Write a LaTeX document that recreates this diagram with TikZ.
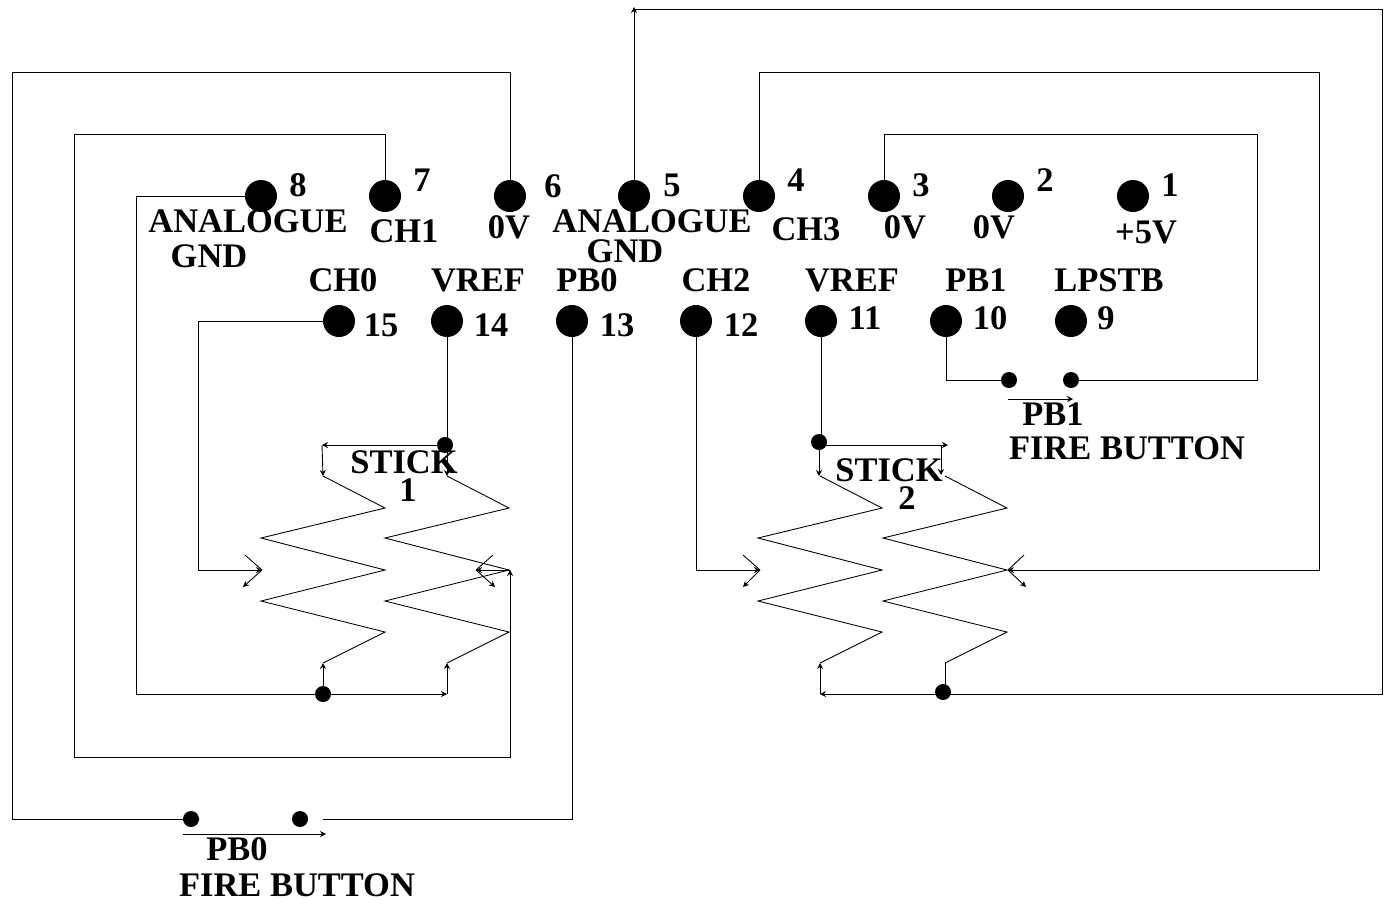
\documentclass[tikz,border=0pt]{standalone}
\usepackage{fontspec}
\setmainfont{Liberation Serif}
\usetikzlibrary{arrows.meta}

\begin{document}
\begin{tikzpicture}[x=0.01cm, y=-0.01cm, >={Stealth[length=0.06cm,width=0.06cm]},
  pin/.style = {circle, fill=black, inner sep=0pt, minimum size=0.32cm},
  contact/.style = {circle, fill=black, inner sep=0pt, minimum size=0.16cm},
  lbl/.style = {font=\fontsize{9.8}{10}\selectfont\bfseries, inner sep=0pt},
  wire/.style = {line width=0.25pt},
  zigzag/.style = {insert path={-- ++(62,32) -- ++(-124,30) -- ++(124,32) -- ++(-124,31) -- ++(124,31) -- ++(-62,31)}}]
\useasboundingbox (0,0) rectangle (1385,899);

% Pins
\node (pin8) [pin] at (261,196) {};
\node (pin7) [pin] at (385,196) {};
\node (pin6) [pin] at (510,196) {};
\node (pin5) [pin] at (634,196) {};
\node (pin4) [pin] at (759,196) {};
\node (pin3) [pin] at (884,196) {};
\node (pin2) [pin] at (1008,196) {};
\node (pin1) [pin] at (1133,196) {};
\node (pin15) [pin] at (339,321) {};
\node (pin14) [pin] at (447,321) {};
\node (pin13) [pin] at (572,321) {};
\node (pin12) [pin] at (696,321) {};
\node (pin11) [pin] at (821,321) {};
\node (pin10) [pin] at (946,321) {};
\node (pin9) [pin] at (1071,321) {};

% Junctions and button contacts
\node (joinA) [contact] at (445,445) {};
\node (joinB) [contact] at (819,442) {};
\node (gndA) [contact] at (323,694) {};
\node (gndB) [contact] at (943,692) {};
\node (pbzeroL) [contact] at (191,819) {};
\node (pbzeroR) [contact] at (300,819) {};
\node (pboneL) [contact] at (1009,380) {};
\node (pboneR) [contact] at (1071,380) {};

% Corners
\coordinate (c6a) at (510,72);
\coordinate (c6b) at (12,819);
\coordinate (c7a) at (385,134);
\coordinate (c7b) at (74,757);
\coordinate (wiperAR) at (510,570);
\coordinate (c8) at (136,694);
\coordinate (c15) at (198,570);
\coordinate (wiperAL) at (262,570);
\coordinate (c13) at (323,819);
\coordinate (c12) at (696,570);
\coordinate (wiperBL) at (760,570);
\coordinate (wiperBR) at (1008,570);
\coordinate (c4a) at (759,72);
\coordinate (c4b) at (1319,570);
\coordinate (c3a) at (884,134);
\coordinate (c3b) at (1257,380);
\coordinate (c10) at (946,380);
\coordinate (c5) at (634,7);
\coordinate (c5a) at (634,9);
\coordinate (c5b) at (1382,694);

% Stick 1 and stick 2
\coordinate (aTop) at (323,476);
\coordinate (aBot) at (323,663);
\coordinate (aCorner) at (322,445);
\coordinate (bTop) at (447,476);
\coordinate (bJoin) at (447,445);
\coordinate (bBot) at (447,663);
\coordinate (bFoot) at (447,694);
\coordinate (dTop) at (820,476);
\coordinate (dBot) at (820,663);
\coordinate (dFoot) at (820,694);
\coordinate (eTop) at (945,476);
\coordinate (eBot) at (945,663);
\coordinate (eEnd) at (948,445);
\coordinate (eDrop) at (941,445);
\coordinate (eTip) at (941,475);

% Resistors
\draw [wire] (aTop) [zigzag] -- (aBot);
\draw [wire] (bTop) [zigzag] -- (bBot);
\draw [wire] (dTop) [zigzag] -- (dBot);
\draw [wire] (eTop) [zigzag] -- (eBot);

% Wires
\draw [wire, ->] (pin6.center) -- (c6a) -| (c6b) -- (pbzeroL.east);
\draw [wire, ->] (pin7.center) -- (c7a) -| (c7b) -| (wiperAR);
\draw [wire] (pin8.center) -| (c8) -- (gndA.center);
\draw [wire, ->] (gndA.center) -- (bFoot);
\draw [wire, ->] (bFoot) -- (bBot);
\draw [wire, ->] (gndA.center) -- (aBot);
\draw [wire, ->] (pin15.center) -| (c15) -- (wiperAL);
\draw [wire] (pin13.center) |- (c13);
\draw [wire] (pin14.center) -- (bJoin);
\draw [wire, ->] (joinA.center) -- (aCorner);
\draw [wire, ->] (aCorner) -- (aTop);
\draw [wire, ->] (bJoin) -- (bTop);
\draw [wire, ->] (wiperAR) -- ++(-34,0) coordinate (tipAR);
\draw [wire] (tipAR) -- ++(17,-15);
\draw [wire, ->] (tipAR) -- ++(19,17);
\draw [wire] (wiperAL) -- ++(-17,-15);
\draw [wire, ->] (wiperAL) -- ++(-19,17);

\draw [wire] (pin11.center) -- (pin11.center |- joinB);
\draw [wire, ->] (joinB.center) -- (joinB.center |- dTop);
\draw [wire, ->] (joinB.center |- eEnd) -- (eEnd);
\draw [wire, ->] (eDrop) -- (eTip);
\draw [wire, ->] (pin12.center) -- (c12) -- (wiperBL);
\draw [wire] (wiperBL) -- ++(-17,-15);
\draw [wire, ->] (wiperBL) -- ++(-17,17);
\draw [wire, ->] (pin4.center) -- (c4a) -| (c4b) -- (wiperBR);
\draw [wire] (wiperBR) -- ++(16,-15);
\draw [wire, ->] (wiperBR) -- ++(18,17);
\draw [wire, ->] (pin5.center) -- (c5);
\draw [wire] (c5a) -| (c5b) -- (gndB.center |- c5b);
\draw [wire, ->] (gndB.center |- c5b) -- (dFoot);
\draw [wire, ->] (dFoot) -- (dBot);
\draw [wire] (gndB.center -| eBot) -- (eBot);
\draw [wire] (pin3.center) -- (c3a) -| (c3b) -- (pboneR.center);
\draw [wire] (pboneL.center) -- (c10) -- (pin10.center);

% Button arrows
\coordinate (pbzeroA) at (183,834);
\coordinate (pbzeroB) at (326,834);
\coordinate (pboneA) at (1008,399);
\coordinate (pboneB) at (1073,399);
\draw [wire, ->] (pbzeroA) -- (pbzeroB);
\draw [wire, ->] (pboneA) -- (pboneB);

% Labels
\node (num8) [lbl] at (298,185) {8};
\node (num7) [lbl] at (422,180) {7};
\node (num6) [lbl] at (553,186) {6};
\node (num5) [lbl] at (672,185) {5};
\node (num4) [lbl] at (796,180) {4};
\node (num3) [lbl] at (921,185) {3};
\node (num2) [lbl] at (1045,180) {2};
\node (num1) [lbl] at (1170,185) {1};
\node (num15) [lbl] at (381,325) {15};
\node (num14) [lbl] at (491,325) {14};
\node (num13) [lbl] at (617,325) {13};
\node (num12) [lbl] at (741,325) {12};
\node (num11) [lbl] at (865,318) {11};
\node (num10) [lbl] at (990,318) {10};
\node (num9) [lbl] at (1106,318) {9};

\node (gndtextA) [lbl] at (248,221) {ANALOGUE};
\node (gndtextB) [lbl] at (209,256) {GND};
\node (gndtextC) [lbl] at (652,221) {ANALOGUE};
\node (gndtextD) [lbl] at (625,251) {GND};
\node (chone) [lbl] at (404,231) {CH1};
\node (zeroA) [lbl] at (509,227) {0V};
\node (chthree) [lbl] at (806,229) {CH3};
\node (zeroB) [lbl] at (905,227) {0V};
\node (zeroC) [lbl] at (994,227) {0V};
\node (five) [lbl] at (1146,232) {+5V};

\node (chzero) [lbl] at (343,280) {CH0};
\node (vrefA) [lbl] at (478,280) {VREF};
\node (pbzero) [lbl] at (587,280) {PB0};
\node (chtwo) [lbl] at (716,280) {CH2};
\node (vrefB) [lbl] at (852,280) {VREF};
\node (pbone) [lbl] at (976,280) {PB1};
\node (lpstb) [lbl] at (1109,280) {LPSTB};

\node (stickA) [lbl] at (404,462) {STICK};
\node (stickAn) [lbl] at (408,490) {1};
\node (stickB) [lbl] at (889,470) {STICK};
\node (stickBn) [lbl] at (907,498) {2};
\node (fireone) [lbl] at (1053,414) {PB1};
\node (firetextA) [lbl] at (1127,448) {FIRE BUTTON};
\node (firezero) [lbl] at (237,849) {PB0};
\node (firetextB) [lbl] at (297,885) {FIRE BUTTON};
\end{tikzpicture}
\end{document}
